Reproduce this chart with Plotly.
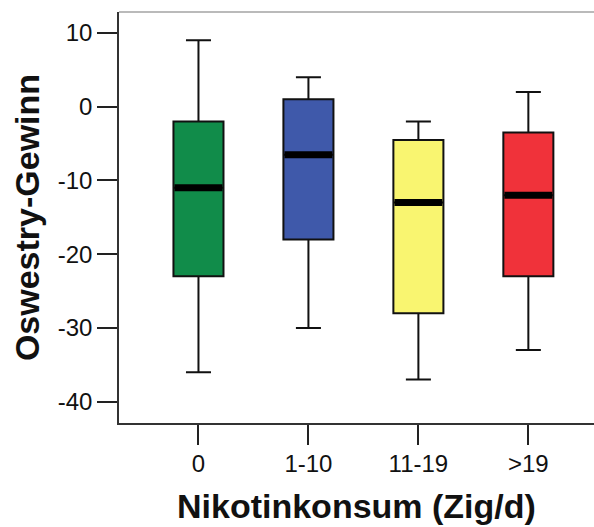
import plotly.graph_objects as go

# Oswestry score gain by daily cigarette consumption
groups = ["0", "1-10", "11-19", ">19"]
upper_whisker = [9, 4, -2, 2]
q3_values = [-2, 1, -4.5, -3.5]
medians = [-11, -6.5, -13, -12]
q1_values = [-23, -18, -28, -23]
lower_whisker = [-36, -30, -37, -33]
box_colors = ["#118C4A", "#3F59AA", "#F9F570", "#F0323A"]

y_ticks = [10, 0, -10, -20, -30, -40]

BOX_WIDTH = 0.455
FONT = "Liberation Sans, Arial, sans-serif"

fig = go.Figure()

for i, name in enumerate(groups):
    fig.add_trace(go.Box(
        x=[i],
        q1=[q1_values[i]],
        median=[medians[i]],
        q3=[q3_values[i]],
        lowerfence=[lower_whisker[i]],
        upperfence=[upper_whisker[i]],
        name=name,
        width=BOX_WIDTH,
        whiskerwidth=0.5,
        fillcolor=box_colors[i],
        line=dict(color="#111111", width=2),
        boxpoints=False,
        hoverinfo="skip",
        showlegend=False,
    ))

# Thick median bars drawn over each box
mx, my = [], []
for i, m in enumerate(medians):
    mx += [i - BOX_WIDTH / 2 + 0.01, i + BOX_WIDTH / 2 - 0.01, None]
    my += [m, m, None]
fig.add_trace(go.Scatter(
    x=mx, y=my, mode="lines",
    line=dict(color="black", width=7),
    hoverinfo="skip", showlegend=False,
))

fig.update_layout(
    width=594, height=527,
    margin=dict(l=119, r=0, t=12, b=104),
    paper_bgcolor="white",
    plot_bgcolor="white",
    font=dict(family=FONT, size=24, color="#111111"),
    xaxis=dict(
        range=[-0.7227, 3.597],
        tickmode="array",
        tickvals=list(range(len(groups))),
        ticktext=groups,
        ticks="outside", ticklen=20, tickwidth=1.5, tickcolor="#222222",
        ticklabelstandoff=-2,
        tickfont=dict(family=FONT, size=24, color="#111111"),
        showline=True, linecolor="#333333", linewidth=1.5,
        showgrid=False, zeroline=False,
    ),
    yaxis=dict(
        range=[-42.89, 12.84],
        tickmode="array",
        tickvals=y_ticks,
        ticktext=[str(v) for v in y_ticks],
        ticks="outside", ticklen=20, tickwidth=1.5, tickcolor="#222222",
        tickfont=dict(family=FONT, size=24, color="#111111"),
        showline=True, linecolor="#333333", linewidth=1.5,
        showgrid=False, zeroline=False,
        title=dict(text="<b>Oswestry-Gewinn</b>",
                   font=dict(family=FONT, size=34, color="#111111"),
                   standoff=8),
    ),
    shapes=[dict(type="line", xref="paper", yref="paper",
                 x0=0, x1=1, y0=1, y1=1,
                 line=dict(color="#777777", width=1.2))],
    annotations=[dict(
        text="<b>Nikotinkonsum (Zig/d)</b>",
        xref="paper", yref="paper", x=0.5, y=-0.201,
        xanchor="center", yanchor="middle", showarrow=False,
        font=dict(family=FONT, size=34, color="#111111"),
    )],
)

fig.write_html("out.html")
